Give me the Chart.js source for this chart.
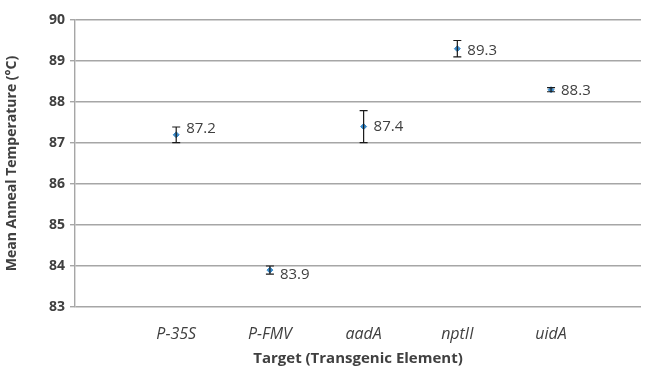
<!DOCTYPE html>
<html>
<head>
<meta charset="utf-8">
<script src="https://cdn.jsdelivr.net/npm/chart.js@4"></script>
<style>
  html, body { margin: 0; padding: 0; background: #ffffff; }
  #wrap { width: 646px; height: 372px; position: relative; }
</style>
</head>
<body>
<div id="wrap"><canvas id="c"></canvas></div>
<script>
// Targets and measured mean anneal temperatures
const categories = ['P-35S', 'P-FMV', 'aadA', 'nptII', 'uidA'];
const meanTemps = [87.2, 83.9, 87.4, 89.3, 88.3];
const errors = [0.19, 0.1, 0.39, 0.2, 0.05];
const yTicks = [83, 84, 85, 86, 87, 88, 89, 90];
// vertical nudges (px) for the value labels
const labelNudge = [-6, 5, 0, 2, 1];

const TEXT = '#404040';
const GRID = '#a6a6a6';
const BLUE = '#3b8ccc';
const FONT = '"Open Sans", Lato, sans-serif';

const points = categories.map((c, i) => ({ x: i + 1, y: meanTemps[i] }));

// error bars with caps, drawn from the value and error arrays
const errorBars = {
  id: 'errorBars',
  afterDatasetsDraw(chart) {
    const { ctx, scales: { x, y } } = chart;
    ctx.save();
    ctx.strokeStyle = '#1a1a1a';
    ctx.lineWidth = 1.2;
    points.forEach((p, i) => {
      const px = x.getPixelForValue(p.x);
      const top = y.getPixelForValue(p.y + errors[i]);
      const bot = y.getPixelForValue(p.y - errors[i]);
      ctx.beginPath();
      ctx.moveTo(px, top); ctx.lineTo(px, bot);
      ctx.moveTo(px - 4, top); ctx.lineTo(px + 4, top);
      ctx.moveTo(px - 4, bot); ctx.lineTo(px + 4, bot);
      ctx.stroke();
    });
    ctx.restore();
  }
};

// value labels to the right of each mean
const valueLabels = {
  id: 'valueLabels',
  afterDraw(chart) {
    const { ctx, scales: { x, y } } = chart;
    ctx.save();
    ctx.fillStyle = TEXT;
    ctx.font = '15px ' + FONT;
    ctx.textAlign = 'left';
    ctx.textBaseline = 'middle';
    points.forEach((p, i) => {
      const px = x.getPixelForValue(p.x);
      const py = y.getPixelForValue(p.y);
      ctx.fillText(p.y.toFixed(1), px + 10, py + labelNudge[i]);
    });
    ctx.restore();
  }
};

new Chart(document.getElementById('c'), {
  type: 'scatter',
  data: {
    datasets: [{
      data: points,
      pointStyle: 'rectRot',
      pointRadius: 3,
      pointBackgroundColor: BLUE,
      pointBorderColor: BLUE,
      showLine: false
    }]
  },
  options: {
    responsive: true,
    maintainAspectRatio: false,
    animation: false,
    events: [],
    layout: { padding: { top: 20, right: 2, left: 0, bottom: 0 } },
    plugins: { legend: { display: false }, tooltip: { enabled: false } },
    scales: {
      x: {
        type: 'linear',
        min: -0.08,
        max: 5.96,
        afterBuildTicks(s) { s.ticks = categories.map((c, i) => ({ value: i + 1 })); },
        afterFit(s) { s.height = 65; },
        grid: { display: false },
        border: { display: false },
        ticks: {
          autoSkip: false,
          maxRotation: 0,
          padding: 10,
          color: TEXT,
          font: { family: FONT, size: 16, style: 'italic' },
          callback: (v) => categories[v - 1] || ''
        },
        title: {
          display: true,
          text: 'Target (Transgenic Element)',
          color: TEXT,
          font: { family: FONT, size: 15, weight: 'bold' },
          padding: { top: 0 }
        }
      },
      y: {
        min: 83,
        max: 90,
        afterBuildTicks(s) { s.ticks = yTicks.map(v => ({ value: v })); },
        afterFit(s) { s.width = 75; },
        grid: { color: GRID, lineWidth: 1.4, tickLength: 5 },
        border: { display: true, color: GRID, width: 1.4 },
        ticks: {
          padding: 5,
          color: TEXT,
          font: { family: FONT, size: 14, weight: 'bold' }
        },
        title: {
          display: true,
          text: 'Mean Anneal Temperature (°C)',
          color: TEXT,
          font: { family: FONT, size: 14, weight: 'bold' },
          padding: { bottom: 3 }
        }
      }
    }
  },
  plugins: [errorBars, valueLabels]
});
</script>
</body>
</html>
